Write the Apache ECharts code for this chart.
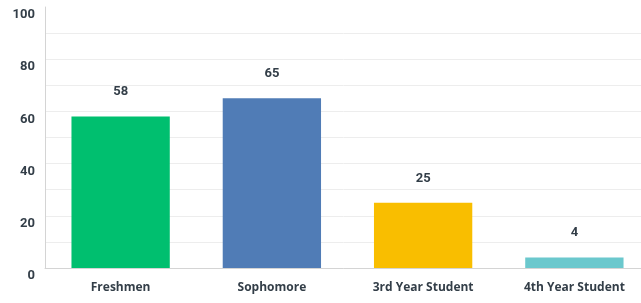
<!DOCTYPE html>
<html lang="en">
<head>
    <meta charset="UTF-8">
    <script src="https://cdn.jsdelivr.net/npm/echarts@6/dist/echarts.min.js"></script>
    <title>Students</title>
</head>
<body style="margin:0">
<div id="main" style="width: 641px;height:303px;"></div>
<script type="text/javascript">
    var categories = ['Freshmen', 'Sophomore', '3rd Year Student', '4th Year Student'];
    var counts = [58, 65, 25, 4];
    var barColors = ['#00bf6f', '#507cb6', '#f9be00', '#6bc8cd'];

    var myChart = echarts.init(document.getElementById('main'));
    var option = {
        animation: false,
        grid: {
            left: 45,
            top: 7,
            width: 605,
            bottom: 35,
            outerBoundsMode: 'none'
        },
        xAxis: {
            type: 'category',
            data: categories,
            axisTick: {show: false},
            axisLine: {lineStyle: {color: '#d4d4d4', width: 1}},
            axisLabel: {
                color: '#333e48',
                fontFamily: 'Open Sans',
                fontWeight: 'bold',
                fontSize: 12,
                margin: 14
            }
        },
        yAxis: {
            type: 'value',
            min: 0,
            max: 100,
            interval: 10,
            axisLine: {show: true, lineStyle: {color: '#d4d4d4', width: 1}},
            axisTick: {show: false},
            splitLine: {showMaxLine: false, lineStyle: {color: '#ededed', width: 1}},
            axisLabel: {
                color: '#333e48',
                fontFamily: 'Roboto',
                fontWeight: 'bold',
                fontSize: 13,
                margin: 10,
                verticalAlign: 'top',
                lineHeight: 16,
                formatter: function (v) {
                    return v % 20 === 0 ? String(v) : '';
                }
            }
        },
        series: [{
            type: 'bar',
            barWidth: '65%',
            data: counts.map(function (v, i) {
                return {value: v, itemStyle: {color: barColors[i]}};
            }),
            label: {
                show: true,
                position: 'top',
                distance: 18,
                color: '#333e48',
                fontFamily: 'Roboto',
                fontWeight: 'bold',
                fontSize: 13
            }
        }]
    };
    myChart.setOption(option);
</script>
</body>
</html>
